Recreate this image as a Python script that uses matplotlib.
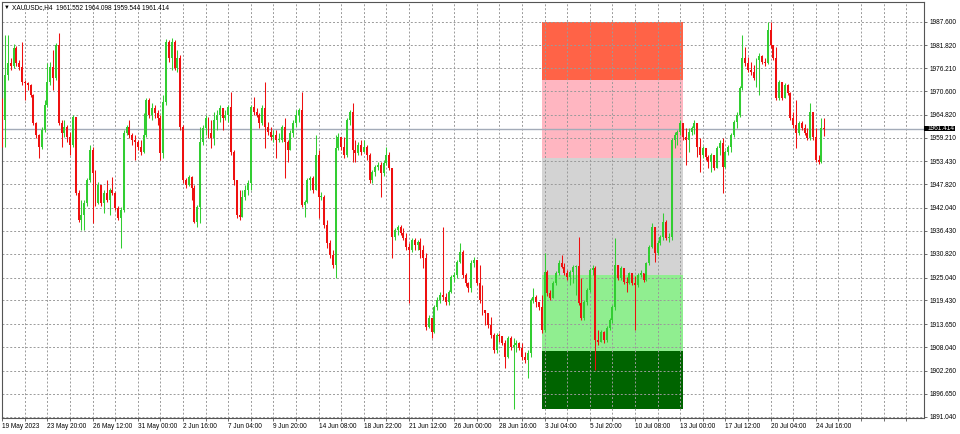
import numpy as np
import matplotlib
matplotlib.use('Agg')
import matplotlib.pyplot as plt
import matplotlib.transforms as mtransforms
from matplotlib.patches import Rectangle

plt.rcParams['font.family'] = ['Liberation Sans', 'DejaVu Sans']

# --- data (open of each bar = previous close) ---
symbol = 'XAUUSDc,H4'
first_open = 1968.4
closes = [
    1963.6, 1974.6, 1977.5, 1976.8, 1981.2, 1977.5, 1976.5, 1972.9, 1972.6, 1972.1,
    1969.7, 1962.8, 1959.9, 1957.0, 1961.1, 1967.2, 1972.9, 1976.5, 1973.8, 1981.9,
    1962.8, 1960.4, 1961.9, 1959.4, 1957.4, 1964.3, 1945.7, 1939.1, 1940.3, 1943.3,
    1948.9, 1956.2, 1950.6, 1943.3, 1947.7, 1943.3, 1945.7, 1944.0, 1946.4, 1945.7,
    1942.1, 1939.6, 1941.6, 1960.4, 1961.9, 1959.9, 1958.7, 1958.2, 1957.0, 1955.7,
    1959.9, 1968.4, 1964.8, 1966.5, 1965.3, 1964.1, 1955.5, 1968.0, 1982.6, 1978.7,
    1982.6, 1976.3, 1978.7, 1961.9, 1948.9, 1947.7, 1949.6, 1946.9, 1938.6, 1942.3,
    1958.2, 1961.6, 1964.1, 1960.4, 1959.2, 1963.6, 1964.8, 1966.5, 1964.1, 1964.8,
    1966.7, 1955.7, 1948.9, 1940.3, 1939.8, 1944.7, 1946.4, 1948.2, 1966.7, 1965.5,
    1964.8, 1962.8, 1966.5, 1961.9, 1960.6, 1959.4, 1959.9, 1958.7, 1958.7, 1961.9,
    1958.2, 1956.2, 1960.4, 1962.8, 1964.8, 1966.0, 1942.8, 1943.5, 1948.9, 1949.4,
    1946.4, 1955.0, 1944.7, 1944.7, 1937.9, 1933.5, 1930.6, 1928.1, 1956.7, 1959.4,
    1957.0, 1955.0, 1963.6, 1965.5, 1956.2, 1955.5, 1957.4, 1955.7, 1957.0, 1955.0,
    1948.9, 1950.8, 1952.1, 1952.6, 1950.6, 1953.0, 1955.0, 1951.8, 1935.0, 1936.7,
    1937.4, 1935.9, 1934.7, 1932.5, 1931.8, 1934.2, 1933.0, 1933.7, 1931.8, 1929.8,
    1912.9, 1915.2, 1911.7, 1917.8, 1919.6, 1920.8, 1920.3, 1919.1, 1921.5, 1925.2,
    1925.7, 1928.8, 1931.3, 1925.7, 1923.7, 1922.5, 1928.6, 1929.3, 1923.7, 1919.6,
    1917.1, 1916.4, 1913.4, 1911.0, 1907.3, 1911.0, 1910.7, 1909.0, 1905.6, 1910.3,
    1908.1, 1908.6, 1909.0, 1907.8, 1905.6, 1904.9, 1906.6, 1919.6, 1920.3, 1919.1,
    1917.8, 1912.2, 1926.4, 1921.3, 1920.0, 1923.7, 1926.1, 1928.6, 1927.6, 1926.1,
    1925.2, 1926.4, 1927.6, 1927.9, 1918.8, 1915.2, 1919.1, 1922.0, 1926.9, 1927.4,
    1909.8, 1909.3, 1911.7, 1909.8, 1912.7, 1914.7, 1917.8, 1928.1, 1924.9, 1927.4,
    1923.9, 1923.7, 1926.1, 1923.7, 1923.2, 1925.7, 1926.1, 1924.4, 1928.6, 1932.5,
    1937.4, 1931.0, 1933.5, 1935.0, 1938.6, 1934.7, 1935.0, 1958.7, 1959.9, 1960.6,
    1962.8, 1959.4, 1958.7, 1960.6, 1961.6, 1962.8, 1957.0, 1955.0, 1956.7, 1954.5,
    1953.3, 1955.0, 1951.8, 1956.7, 1957.9, 1952.1, 1955.7, 1957.0, 1959.9, 1963.1,
    1964.8, 1971.4, 1978.7, 1977.5, 1975.8, 1975.3, 1973.8, 1978.2, 1979.2, 1977.7,
    1977.5, 1985.6, 1981.9, 1978.7, 1968.9, 1972.9, 1968.9, 1972.1, 1970.2, 1964.1,
    1962.3, 1960.4, 1962.8, 1961.6, 1960.4, 1959.2, 1965.5, 1959.4, 1953.8, 1953.3,
    1961.552, 1961.414,
]
highs = [
    1968.9, 1984.3, 1984.3, 1978.7, 1982.1, 1981.7, 1978.2, 1982.6, 1973.3, 1972.9,
    1972.4, 1969.9, 1963.1, 1960.1, 1961.9, 1968.4, 1977.5, 1977.7, 1980.7, 1982.4,
    1984.8, 1963.6, 1963.6, 1962.3, 1960.6, 1964.8, 1963.1, 1946.4, 1944.0, 1944.0,
    1949.4, 1957.4, 1957.0, 1951.3, 1948.4, 1947.4, 1946.4, 1948.9, 1946.9, 1949.6,
    1946.0, 1942.5, 1942.3, 1961.1, 1962.3, 1963.6, 1960.4, 1959.9, 1958.7, 1958.7,
    1965.3, 1968.9, 1968.9, 1967.7, 1967.2, 1966.0, 1964.8, 1969.7, 1983.4, 1983.1,
    1983.6, 1983.1, 1980.7, 1979.5, 1962.3, 1949.4, 1950.1, 1949.9, 1947.7, 1942.8,
    1961.9, 1962.3, 1964.8, 1964.3, 1963.6, 1965.5, 1966.0, 1967.2, 1966.5, 1966.0,
    1967.2, 1970.4, 1956.2, 1947.7, 1946.4, 1946.4, 1947.7, 1948.9, 1967.2, 1969.2,
    1966.5, 1965.3, 1967.2, 1972.9, 1963.1, 1961.9, 1961.1, 1961.1, 1960.4, 1962.3,
    1964.1, 1958.7, 1961.1, 1963.6, 1966.0, 1966.5, 1970.4, 1944.0, 1949.4, 1949.9,
    1949.9, 1959.9, 1956.2, 1946.0, 1945.2, 1939.1, 1934.2, 1931.8, 1959.9, 1960.4,
    1959.4, 1959.4, 1964.1, 1966.0, 1967.7, 1958.7, 1958.2, 1958.7, 1958.7, 1957.4,
    1955.5, 1951.3, 1952.6, 1953.3, 1953.3, 1953.8, 1957.0, 1955.7, 1951.8, 1937.1,
    1937.9, 1937.9, 1937.1, 1935.9, 1933.5, 1934.7, 1934.7, 1934.2, 1934.7, 1933.0,
    1931.0, 1915.9, 1915.2, 1918.3, 1920.3, 1921.5, 1937.4, 1921.3, 1922.0, 1925.7,
    1926.4, 1929.3, 1933.5, 1931.8, 1926.1, 1923.9, 1929.3, 1930.1, 1929.3, 1928.1,
    1923.2, 1916.9, 1915.9, 1915.4, 1911.5, 1911.5, 1911.5, 1910.7, 1909.8, 1910.7,
    1910.7, 1910.3, 1909.8, 1909.3, 1909.0, 1906.8, 1907.3, 1920.0, 1922.5, 1920.8,
    1919.1, 1920.8, 1931.0, 1926.9, 1922.0, 1924.2, 1926.6, 1929.3, 1930.6, 1928.6,
    1926.9, 1926.9, 1928.1, 1928.1, 1935.0, 1924.9, 1919.6, 1922.5, 1927.4, 1928.1,
    1927.9, 1912.2, 1912.2, 1912.0, 1913.2, 1915.2, 1918.3, 1934.7, 1928.1, 1927.9,
    1926.9, 1925.2, 1926.4, 1925.7, 1925.4, 1926.1, 1926.9, 1926.1, 1928.8, 1933.0,
    1938.4, 1936.7, 1934.2, 1935.4, 1940.8, 1939.1, 1935.9, 1959.2, 1960.6, 1961.1,
    1963.6, 1962.3, 1961.6, 1961.6, 1962.1, 1963.6, 1962.8, 1959.2, 1957.2, 1956.2,
    1955.0, 1955.5, 1955.0, 1957.2, 1958.7, 1959.2, 1956.2, 1957.4, 1960.4, 1963.6,
    1965.5, 1971.9, 1984.3, 1981.4, 1979.0, 1977.7, 1977.0, 1978.7, 1979.9, 1979.5,
    1978.7, 1987.5, 1987.5, 1981.9, 1981.4, 1973.3, 1972.9, 1972.6, 1972.4, 1970.4,
    1965.5, 1968.4, 1963.3, 1963.3, 1962.6, 1961.6, 1967.7, 1965.5, 1961.6, 1955.0,
    1964.1, 1964.098,
]
lows = [
    1957.0, 1957.0, 1973.3, 1975.8, 1976.3, 1976.8, 1975.8, 1972.1, 1968.4, 1970.9,
    1969.2, 1962.3, 1959.2, 1954.3, 1956.5, 1960.6, 1966.7, 1972.1, 1970.9, 1973.3,
    1962.3, 1957.0, 1959.4, 1958.2, 1955.0, 1957.0, 1945.2, 1938.6, 1936.7, 1936.7,
    1942.5, 1948.4, 1938.4, 1942.5, 1943.0, 1942.5, 1940.8, 1943.5, 1940.3, 1945.2,
    1941.6, 1939.1, 1932.3, 1941.1, 1959.9, 1959.2, 1957.4, 1953.8, 1956.2, 1955.0,
    1955.5, 1959.4, 1964.1, 1963.6, 1964.1, 1962.3, 1953.8, 1954.3, 1967.2, 1977.7,
    1975.8, 1975.8, 1975.3, 1961.1, 1948.2, 1946.9, 1947.4, 1944.0, 1938.4, 1937.4,
    1938.4, 1957.4, 1959.9, 1959.2, 1956.7, 1957.4, 1961.1, 1963.1, 1961.1, 1963.6,
    1963.1, 1955.0, 1947.7, 1939.6, 1939.1, 1940.3, 1944.0, 1945.2, 1946.4, 1964.8,
    1964.3, 1961.6, 1962.3, 1956.7, 1959.9, 1958.7, 1958.2, 1954.3, 1958.2, 1958.2,
    1949.4, 1953.3, 1956.2, 1959.4, 1961.9, 1963.1, 1942.3, 1939.8, 1943.3, 1946.4,
    1945.7, 1946.4, 1939.6, 1944.0, 1937.1, 1932.3, 1929.8, 1927.4, 1924.9, 1956.2,
    1956.2, 1954.3, 1954.5, 1962.3, 1953.3, 1953.3, 1955.0, 1955.0, 1955.7, 1953.8,
    1948.2, 1948.2, 1949.9, 1951.3, 1944.7, 1949.9, 1952.6, 1951.3, 1929.8, 1934.2,
    1935.4, 1935.4, 1934.2, 1931.8, 1918.8, 1931.3, 1931.8, 1931.8, 1929.8, 1927.4,
    1912.2, 1912.7, 1910.3, 1911.5, 1917.1, 1918.8, 1919.6, 1918.3, 1918.3, 1921.3,
    1923.9, 1924.9, 1928.6, 1924.9, 1923.0, 1921.5, 1921.5, 1927.6, 1923.2, 1918.8,
    1915.9, 1913.4, 1912.7, 1910.3, 1906.6, 1906.6, 1909.3, 1908.6, 1902.9, 1905.4,
    1907.3, 1892.9, 1906.8, 1907.3, 1904.9, 1904.1, 1900.5, 1905.6, 1918.8, 1917.8,
    1917.1, 1911.5, 1911.7, 1920.5, 1919.6, 1920.0, 1923.2, 1925.7, 1927.4, 1925.7,
    1924.4, 1923.2, 1923.7, 1920.8, 1918.3, 1914.7, 1914.7, 1918.3, 1921.5, 1925.7,
    1902.4, 1908.6, 1909.3, 1909.0, 1909.3, 1912.2, 1913.9, 1917.1, 1924.4, 1924.4,
    1923.5, 1921.5, 1923.5, 1923.2, 1912.2, 1922.7, 1925.2, 1923.9, 1924.2, 1928.1,
    1932.3, 1928.8, 1930.6, 1933.0, 1934.2, 1934.2, 1933.7, 1934.2, 1956.7, 1957.4,
    1959.9, 1958.7, 1952.6, 1955.7, 1959.9, 1960.1, 1954.5, 1950.8, 1954.3, 1953.8,
    1951.8, 1950.8, 1951.3, 1951.8, 1955.0, 1945.7, 1951.8, 1955.0, 1955.7, 1959.4,
    1961.6, 1964.3, 1970.9, 1976.8, 1975.3, 1974.6, 1973.3, 1971.6, 1969.7, 1977.2,
    1976.8, 1977.2, 1981.2, 1978.2, 1968.4, 1968.4, 1968.4, 1969.7, 1969.7, 1963.6,
    1961.6, 1956.7, 1959.9, 1961.1, 1959.9, 1958.7, 1958.7, 1958.7, 1953.3, 1952.8,
    1953.0, 1959.544,
]
last_ohlc = ['1961.552', '1964.098', '1959.544', '1961.414']
bid = 1961.414

date_labels = ['19 May 2023', '23 May 20:00', '26 May 12:00', '31 May 00:00',
               '2 Jun 16:00', '7 Jun 04:00', '9 Jun 20:00', '14 Jun 08:00',
               '18 Jun 22:00', '21 Jun 12:00', '26 Jun 00:00', '28 Jun 16:00',
               '3 Jul 04:00', '5 Jul 20:00', '10 Jul 08:00', '13 Jul 00:00',
               '17 Jul 12:00', '20 Jul 04:00', '24 Jul 16:00']
price_labels = ['1987.600', '1981.820', '1976.210', '1970.600', '1964.820',
                '1959.210', '1953.430', '1947.820', '1942.040', '1936.430',
                '1930.820', '1925.040', '1919.430', '1913.650', '1908.040',
                '1902.260', '1896.650', '1891.040']

# zone box (price levels from top to bottom) drawn between two bars
zone_levels = [1987.5, 1973.3, 1954.3, 1925.7, 1907.1, 1892.9]
zone_colors = ['#ff6347', '#ffb6c1', '#d3d3d3', '#90ee90', '#006400']
zone_bars = (191, 241)

GREEN = '#32cd32'
RED = '#ee1010'
FS = 4.7

fig = plt.figure(figsize=(9.6, 4.34), dpi=100)
ax = fig.add_axes([2 / 960, 16 / 434, 922 / 960, 416 / 434])

# zones
for top, bot, col in zip(zone_levels[:-1], zone_levels[1:], zone_colors):
    ax.add_patch(Rectangle((zone_bars[0], bot), zone_bars[1] - zone_bars[0], top - bot,
                           facecolor=col, edgecolor='none', zorder=1))

# candles
opens = [first_open] + closes[:-1]
x = np.arange(len(closes))
o = np.array(opens)
c = np.array(closes)
h = np.maximum(np.array(highs), np.maximum(o, c))
l = np.minimum(np.array(lows), np.minimum(o, c))
cols = np.where(c >= o, GREEN, RED)
ax.vlines(x, l, h, colors=cols, linewidth=0.75, zorder=3)
ax.bar(x, np.maximum(np.abs(c - o), 0.3), bottom=np.minimum(o, c), width=0.7,
       color=cols, linewidth=0, zorder=4)

# bid line
ax.axhline(bid, color='#a3abb8', linewidth=1.0, zorder=2.5)

ax.set_xlim(-0.1, 326.3)
ax.set_ylim(1890.7, 1992.4)

# x ticks: grid every 8 bars, labels every 16
xt = list(range(0, 321, 8))
xl = [date_labels[i // 16] if i % 16 == 0 and i // 16 < len(date_labels) else '' for i in xt]
ax.set_xticks(xt)
ax.set_xticklabels(xl)
for t in ax.get_xticklabels():
    t.set_ha('left')

ax.yaxis.tick_right()
ax.set_yticks([float(p) for p in price_labels])
ax.set_yticklabels(price_labels)

ax.tick_params(axis='both', labelsize=FS, length=2.5, width=0.6, color='#555555',
               direction='out', pad=1.2)
ax.grid(True, color='#9a9a9a', linestyle=(0, (2, 2)), linewidth=0.7)
for s in ax.spines.values():
    s.set_color('#555555')
    s.set_linewidth(0.8)

# bid label on price scale: black box flush with the axis
trans = mtransforms.blended_transform_factory(ax.transAxes, ax.transData)
box_h = 5.5 * (1992.4 - 1890.7) / 416
ax.add_patch(Rectangle((1.0, bid - box_h / 2), 31 / 922, box_h, transform=trans,
                       facecolor='black', edgecolor='none', clip_on=False, zorder=9))
ax.text(1.0 + 4 / 922, bid, '%.3f' % bid, transform=trans, ha='left', va='center',
        color='white', fontsize=FS, clip_on=False, zorder=10)

# header
fig.text(4 / 960, 1 - 7.5 / 434, '\u25bc', fontsize=4.2, va='center', ha='left')
fig.text(12.5 / 960, 1 - 7.5 / 434, symbol + '  ' + ' '.join(last_ohlc),
         fontsize=FS, va='center', ha='left', color='black')

fig.savefig('out.png', dpi=100, facecolor='white')
